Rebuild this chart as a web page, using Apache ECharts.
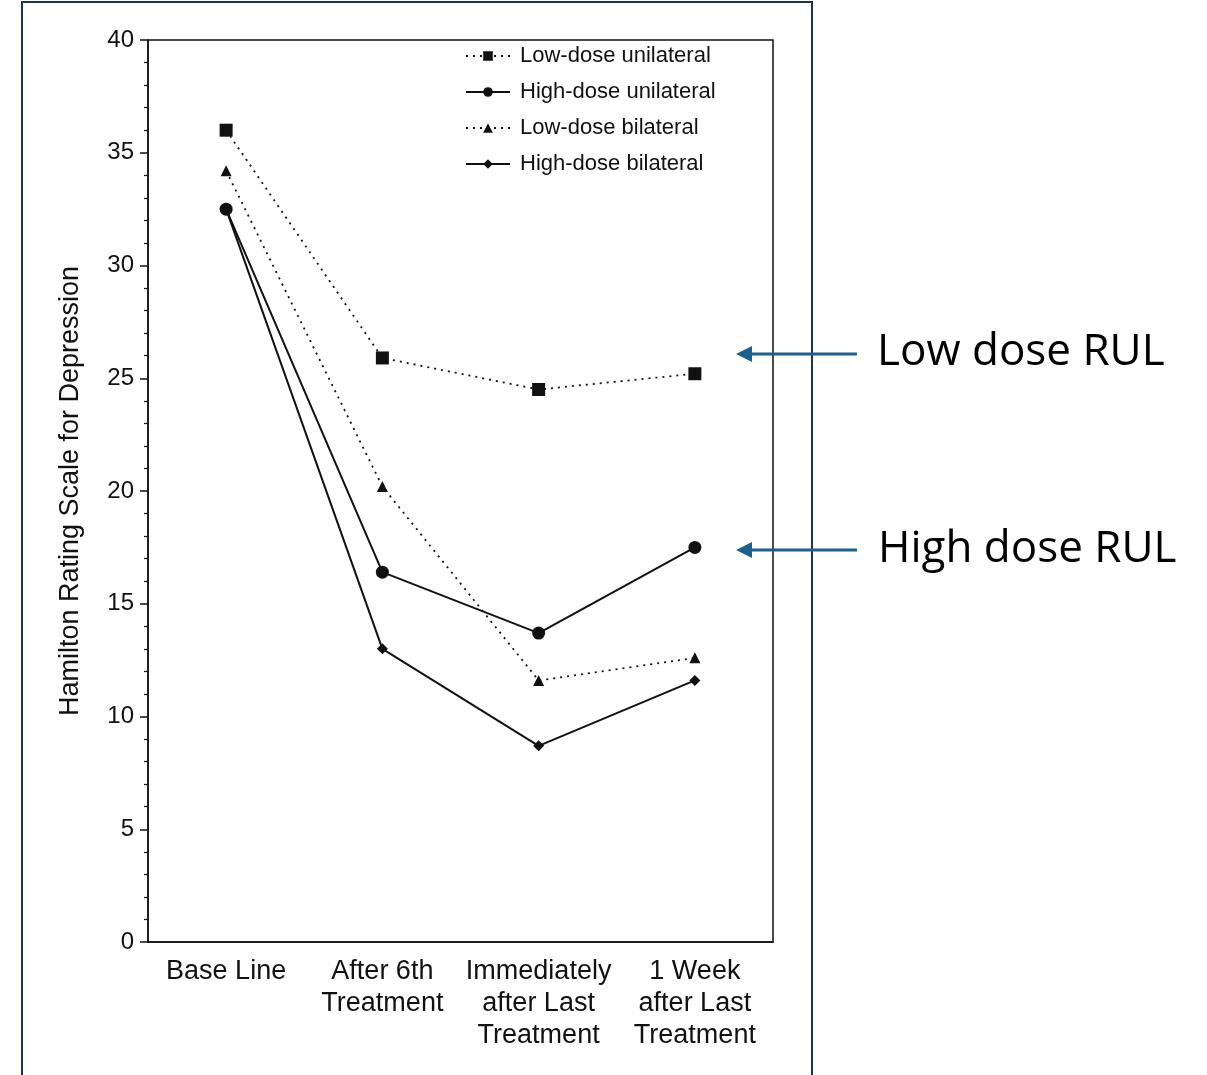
<!DOCTYPE html>
<html>
<head>
<meta charset="utf-8">
<script src="https://cdn.jsdelivr.net/npm/echarts@6/dist/echarts.min.js"></script>
<style>
  html, body { margin: 0; padding: 0; background: #fff; }
  #chart { width: 1207px; height: 1075px; }
</style>
</head>
<body>
<div id="chart"></div>
<script>
  // categories and values
  const categories = ['Base Line', 'After 6th\nTreatment', 'Immediately\nafter Last\nTreatment', '1 Week\nafter Last\nTreatment'];
  const lowUnilateral = [36.0, 25.9, 24.5, 25.2];
  const highUnilateral = [32.5, 16.4, 13.7, 17.5];
  const lowBilateral = [34.2, 20.2, 11.6, 12.6];
  const highBilateral = [32.5, 13.0, 8.7, 11.6];
  const seriesNames = ['Low-dose unilateral', 'High-dose unilateral', 'Low-dose bilateral', 'High-dose bilateral'];
  const yTicks = [0, 5, 10, 15, 20, 25, 30, 35, 40];

  const font = "'Liberation Sans', Arial, sans-serif";
  const ink = '#111';
  const dots = [2, 5];

  const chart = echarts.init(document.getElementById('chart'));

  const mkSeries = (name, data, symbol, size, dotted) => ({
    name: name,
    type: 'line',
    data: data,
    symbol: symbol,
    symbolSize: size,
    showSymbol: true,
    itemStyle: { color: ink },
    lineStyle: { color: ink, width: dotted ? 1.8 : 2, type: dotted ? dots : 'solid' },
    emphasis: { disabled: true },
    z: 3
  });

  const option = {
    animation: false,
    backgroundColor: '#fff',
    grid: {
      left: 148, top: 40, right: 434, bottom: 133,
      show: true, borderColor: ink, borderWidth: 1.5
    },
    legend: {
      orient: 'vertical',
      left: 460, top: 40,
      itemWidth: 44, itemHeight: 12, itemGap: 14,
      textStyle: { fontFamily: font, fontSize: 22, color: ink, padding: [0, 0, 0, 5] },
      data: seriesNames
    },
    xAxis: {
      type: 'category',
      data: categories,
      boundaryGap: true,
      axisLine: { lineStyle: { color: ink, width: 1.5 } },
      axisTick: { alignWithLabel: true, length: 8, lineStyle: { color: ink, width: 1.5 } },
      axisLabel: { fontFamily: font, fontSize: 27, color: ink, margin: 14, lineHeight: 32, interval: 0 },
      splitLine: { show: false }
    },
    yAxis: {
      type: 'value',
      min: yTicks[0], max: yTicks[yTicks.length - 1], interval: 5,
      name: 'Hamilton Rating Scale for Depression',
      nameLocation: 'middle', nameGap: 64, nameRotate: 90,
      nameTextStyle: { fontFamily: font, fontSize: 27, color: ink },
      axisLine: { show: true, lineStyle: { color: ink, width: 1.5 } },
      axisTick: { show: true, length: 8, lineStyle: { color: ink, width: 1.5 } },
      minorTick: { show: true, splitNumber: 5, length: 4, lineStyle: { color: ink, width: 1.2 } },
      axisLabel: { fontFamily: font, fontSize: 24, color: ink, margin: 14 },
      splitLine: { show: false }
    },
    graphic: [
      { type: 'rect', shape: { x: 22, y: 2, width: 790, height: 1100 },
        style: { fill: 'none', stroke: '#1b3350', lineWidth: 2 }, z: 10 },
      { type: 'line', shape: { x1: 857, y1: 354, x2: 746, y2: 354 },
        style: { stroke: '#1e6089', lineWidth: 3 }, z: 10 },
      { type: 'polygon', shape: { points: [[736, 354], [752, 346], [752, 362]] },
        style: { fill: '#1e6089' }, z: 10 },
      { type: 'line', shape: { x1: 857, y1: 550, x2: 746, y2: 550 },
        style: { stroke: '#1e6089', lineWidth: 3 }, z: 10 },
      { type: 'polygon', shape: { points: [[736, 550], [752, 542], [752, 558]] },
        style: { fill: '#1e6089' }, z: 10 },
      { type: 'text', left: 877, top: 330,
        style: { text: 'Low dose RUL', font: "44px 'Open Sans', 'Noto Sans', sans-serif", fill: '#000' }, z: 10 },
      { type: 'text', left: 878, top: 527,
        style: { text: 'High dose RUL', font: "44px 'Open Sans', 'Noto Sans', sans-serif", fill: '#000' }, z: 10 }
    ],
    series: [
      mkSeries(seriesNames[0], lowUnilateral, 'rect', 13, true),
      mkSeries(seriesNames[1], highUnilateral, 'circle', 13, false),
      mkSeries(seriesNames[2], lowBilateral, 'triangle', 11, true),
      mkSeries(seriesNames[3], highBilateral, 'diamond', 11, false)
    ]
  };

  chart.setOption(option);
</script>
</body>
</html>
